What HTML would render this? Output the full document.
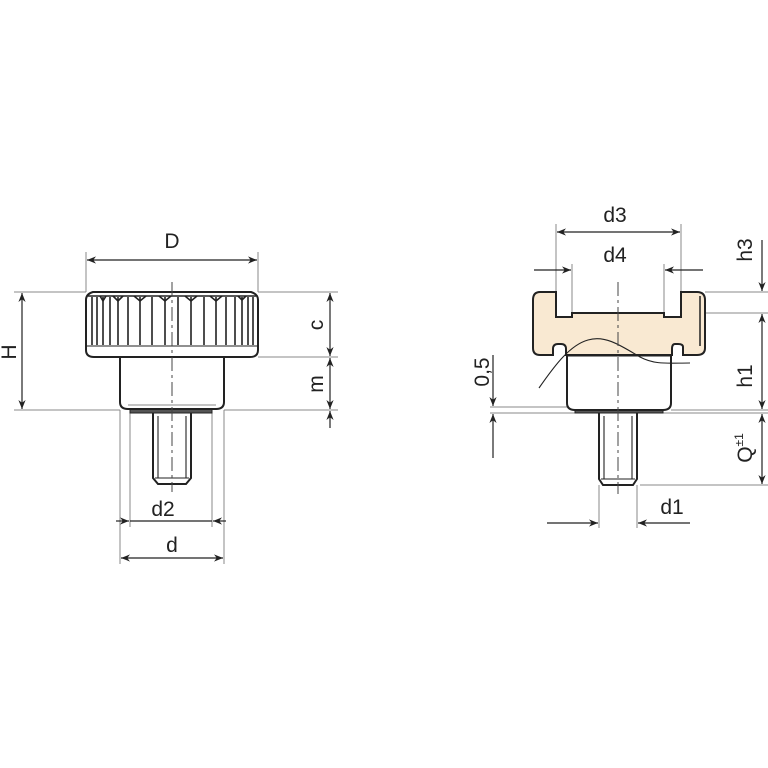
<!DOCTYPE html>
<html><head><meta charset="utf-8"><style>html,body{margin:0;background:#fff}svg{display:block}text{font-family:"Liberation Sans",sans-serif;font-size:21px;fill:#222}</style></head>
<body>
<svg width="768" height="768" viewBox="0 0 768 768" xmlns="http://www.w3.org/2000/svg">
<defs>
<marker id="a" viewBox="0 0 10 10" refX="10" refY="5" markerWidth="9" markerHeight="9" orient="auto-start-reverse" markerUnits="userSpaceOnUse"><path d="M0,1 L10,5 L0,9 L3,5 z" fill="#222"/></marker>
</defs>
<g stroke="#888" stroke-width="1" fill="none">
<line x1="86" y1="252" x2="86" y2="292"/><line x1="258" y1="252" x2="258" y2="292"/>
<line x1="14" y1="292" x2="86" y2="292"/><line x1="258" y1="292" x2="338" y2="292"/>
<line x1="258" y1="357" x2="338" y2="357"/>
<line x1="14" y1="410" x2="120" y2="410"/><line x1="224" y1="410" x2="338" y2="410"/>
<line x1="130" y1="413" x2="130" y2="527"/><line x1="212" y1="413" x2="212" y2="527"/>
<line x1="120" y1="410" x2="120" y2="564"/><line x1="224" y1="410" x2="224" y2="564"/>
<line x1="556" y1="224" x2="556" y2="292"/><line x1="681" y1="224" x2="681" y2="292"/>
<line x1="572" y1="264" x2="572" y2="313"/><line x1="664" y1="264" x2="664" y2="313"/>
<line x1="705" y1="292" x2="768" y2="292"/><line x1="680" y1="313" x2="768" y2="313"/>
<line x1="671" y1="410" x2="768" y2="410"/><line x1="637" y1="413" x2="768" y2="413"/>
<line x1="640" y1="485" x2="768" y2="485"/>
<line x1="490" y1="407" x2="567" y2="407"/><line x1="490" y1="413" x2="600" y2="413"/>
<line x1="599" y1="485" x2="599" y2="528"/><line x1="637" y1="485" x2="637" y2="528"/>
</g>
<g stroke="#222" stroke-width="1.2" fill="none">
<line x1="87" y1="260" x2="257" y2="260" marker-start="url(#a)" marker-end="url(#a)"/>
<line x1="22" y1="293" x2="22" y2="409" marker-start="url(#a)" marker-end="url(#a)"/>
<line x1="330" y1="293" x2="330" y2="356" marker-start="url(#a)" marker-end="url(#a)"/>
<line x1="330" y1="358" x2="330" y2="409" marker-start="url(#a)" marker-end="url(#a)"/>
<line x1="330" y1="411" x2="330" y2="428" marker-start="url(#a)"/>
<line x1="116" y1="521" x2="129" y2="521" marker-end="url(#a)"/><line x1="130" y1="521" x2="212" y2="521"/><line x1="226" y1="521" x2="213" y2="521" marker-end="url(#a)"/>
<line x1="121" y1="558" x2="223" y2="558" marker-start="url(#a)" marker-end="url(#a)"/>
<line x1="557" y1="232" x2="680" y2="232" marker-start="url(#a)" marker-end="url(#a)"/>
<line x1="534" y1="270" x2="571" y2="270" marker-end="url(#a)"/><line x1="703" y1="270" x2="665" y2="270" marker-end="url(#a)"/>
<line x1="762" y1="240" x2="762" y2="291" marker-end="url(#a)"/>
<line x1="762" y1="314" x2="762" y2="409" marker-start="url(#a)" marker-end="url(#a)"/>
<line x1="762" y1="414" x2="762" y2="484" marker-start="url(#a)" marker-end="url(#a)"/>
<line x1="493" y1="355" x2="493" y2="406" marker-end="url(#a)"/>
<line x1="493" y1="458" x2="493" y2="414" marker-end="url(#a)"/>
<line x1="547" y1="523" x2="598" y2="523" marker-end="url(#a)"/><line x1="690" y1="523" x2="638" y2="523" marker-end="url(#a)"/>
</g>
<g stroke="#222" stroke-width="2" fill="#fff">
<path d="M153,413 L153,478 L158,484 L186,484 L191,478 L191,413"/>
<rect x="130" y="409" width="82" height="4" fill="#555" stroke-width="1"/>
<path d="M120,357 L120,402 Q120,409 128,409 L216,409 Q224,409 224,402 L224,357"/>
<path d="M93,292 L251,292 Q258,294 258,300 L258,350 Q258,357 250,357 L94,357 Q86,357 86,350 L86,300 Q86,294 93,292 Z"/>
</g>
<g stroke="#222" stroke-width="1.1" fill="none">
<line x1="158" y1="416" x2="158" y2="478"/><line x1="186" y1="416" x2="186" y2="478"/>
<line x1="155" y1="478" x2="189" y2="478"/>
<line x1="86" y1="346" x2="258" y2="346"/>
<line x1="128" y1="405" x2="216" y2="405" stroke="#888"/>
<path d="M88,296 L256,296" stroke-width="1.5"/>
<g stroke-width="1.6">
<path d="M92,297v48M97,297v48M103,297v48M110,297v48M118,297v48M128,297v48M140,297v48M152,297v48M165,297v48M178,297v48M191,297v48M204,297v48M216,297v48M226,297v48M235,297v48M242,297v48M248,297v48M253,297v48"/>
<path d="M100,296l3,5l3,-5M113,296l5,5l5,-5M134,296l6,5l6,-5M159,296l6,5l6,-5M185,296l6,5l6,-5M210,296l6,5l6,-5M238,296l4,4l4,-4"/>
</g>
</g>
<g stroke="#222" stroke-width="2">
<path d="M599,413 L599,479 L603,485 L633,485 L637,479 L637,413" fill="#fff"/>
<rect x="575" y="409" width="88" height="4" fill="#555" stroke-width="1"/>
<path d="M567,355 L567,403 Q567,410 575,410 L663,410 Q671,410 671,403 L671,355" fill="#fff"/>
<path d="M540,292 L556,292 L556,317 L572,317 L572,313 L664,313 L664,317 L681,317 L681,292 L697,292 Q705,292 705,300 L705,348 Q705,355 697,355 L683,355 L683,347 Q683,344 678,344 L675,344 Q672,344 672,349 L672,355 L566,355 L566,349 Q566,344 561,344 L558,344 Q553,344 553,349 L553,355 L540,355 Q533,355 533,348 L533,300 Q533,292 540,292 Z" fill="#f9e9d2"/>
</g>
<g stroke="#222" stroke-width="1.1" fill="none">
<line x1="700" y1="296" x2="700" y2="346" stroke-width="1.5"/>
<line x1="604" y1="416" x2="604" y2="479"/><line x1="632" y1="416" x2="632" y2="479"/>
<line x1="601" y1="479" x2="635" y2="479"/>
<line x1="567" y1="356" x2="671" y2="356"/>
<path d="M539,388 C555,365 570,345 588,340 C605,335 620,345 640,357 C655,365 668,363 690,363"/>
</g>
<g stroke="#444" stroke-width="1" stroke-dasharray="14,4,3,4">
<line x1="172" y1="282" x2="172" y2="492"/><line x1="618" y1="282" x2="618" y2="494"/>
</g>
<text x="172" y="248" text-anchor="middle">D</text>
<text x="163" y="516" text-anchor="middle">d2</text>
<text x="172" y="552" text-anchor="middle">d</text>
<text transform="translate(16,352) rotate(-90)" text-anchor="middle">H</text>
<text transform="translate(323,325) rotate(-90)" text-anchor="middle">c</text>
<text transform="translate(323,384) rotate(-90)" text-anchor="middle">m</text>
<text x="615" y="222" text-anchor="middle">d3</text>
<text x="615" y="262" text-anchor="middle">d4</text>
<text x="672" y="514" text-anchor="middle">d1</text>
<text transform="translate(752,250) rotate(-90)" text-anchor="middle">h3</text>
<text transform="translate(752,376) rotate(-90)" text-anchor="middle">h1</text>
<text transform="translate(489,372) rotate(-90)" text-anchor="middle">0,5</text>
<text transform="translate(752,448) rotate(-90)" text-anchor="middle">Q<tspan font-size="12" dy="-9">±1</tspan></text>
</svg>
</body></html>
